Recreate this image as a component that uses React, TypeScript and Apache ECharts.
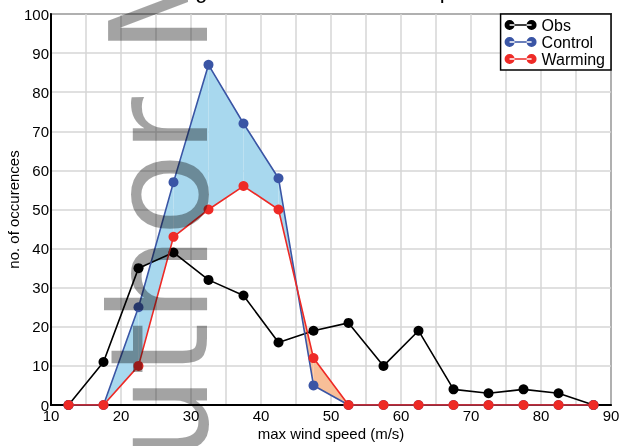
import React, { useEffect, useRef } from "react";
import * as echarts from "echarts";

const xCenters = [12.5, 17.5, 22.5, 27.5, 32.5, 37.5, 42.5, 47.5, 52.5, 57.5, 62.5, 67.5, 72.5, 77.5, 82.5, 87.5];
const obsValues = [0, 11, 35, 39, 32, 28, 16, 19, 21, 10, 19, 4, 3, 4, 3, 0];
const controlValues = [0, 0, 25, 57, 87, 72, 58, 5, 0, 0, 0, 0, 0, 0, 0, 0];
const warmingValues = [0, 0, 10, 43, 50, 56, 50, 12, 0, 0, 0, 0, 0, 0, 0, 0];
const seriesNames = ["Obs", "Control", "Warming"];
const titleText = "Histogram of maximum wind speed";
const watermarkText = "Author Manuscript";

const FONT = '"Liberation Sans", Arial, Helvetica, sans-serif';
const WM_FONT = '"DejaVu Sans", sans-serif';
const BLUE = "#3a55a5";
const RED = "#ee2a26";
const BLUE_FILL = "#a8d8ee";
const ORANGE_FILL = "#f8bf98";

const legendIcon =
  "path://M0,5a5,5 0 1,0 10,0a5,5 0 1,0 -10,0z M22,5a5,5 0 1,0 10,0a5,5 0 1,0 -10,0z M5,4.2h22v1.6h-22z";

export default function App() {
  const ref = useRef<HTMLDivElement>(null);

  useEffect(() => {
    if (!ref.current) return;
    const chart = echarts.init(ref.current, undefined, { renderer: "svg" });

    const fillData = xCenters.slice(0, -1).map((x, i) => [
      x,
      xCenters[i + 1],
      controlValues[i],
      controlValues[i + 1],
      warmingValues[i],
      warmingValues[i + 1],
    ]);

    const renderFill = (params: any, api: any) => {
      const x0 = api.value(0), x1 = api.value(1);
      const c0 = api.value(2), c1 = api.value(3);
      const w0 = api.value(4), w1 = api.value(5);
      const d0 = c0 - w0, d1 = c1 - w1;
      const children: any[] = [];
      const poly = (pts: number[][], pos: boolean) => {
        children.push({
          type: "polygon",
          shape: { points: pts.map((p) => api.coord(p)) },
          style: { fill: pos ? BLUE_FILL : ORANGE_FILL, stroke: "none" },
        });
      };
      if (d0 === 0 && d1 === 0) return { type: "group", children };
      if (d0 >= 0 && d1 >= 0) {
        poly([[x0, c0], [x1, c1], [x1, w1], [x0, w0]], true);
      } else if (d0 <= 0 && d1 <= 0) {
        poly([[x0, c0], [x1, c1], [x1, w1], [x0, w0]], false);
      } else {
        const t = d0 / (d0 - d1);
        const xm = x0 + t * (x1 - x0);
        const ym = c0 + t * (c1 - c0);
        poly([[x0, c0], [xm, ym], [x0, w0]], d0 > 0);
        poly([[xm, ym], [x1, c1], [x1, w1]], d1 > 0);
      }
      return { type: "group", children };
    };

    const lineSeries = (name: string, vals: number[], color: string, z: number) => ({
      name,
      type: "line",
      data: xCenters.map((x, i) => [x, vals[i]]),
      symbol: "circle",
      symbolSize: 10,
      z,
      lineStyle: { color, width: 1.6 },
      itemStyle: { color },
      emphasis: { disabled: true },
    });

    chart.setOption({
      animation: false,
      textStyle: { fontFamily: FONT },
      grid: {
        left: 51,
        right: 12,
        top: 14,
        bottom: 41,
        show: true,
        borderColor: "#000",
        borderWidth: 1.5,
        backgroundColor: "transparent",
        containLabel: false,
        outerBoundsMode: "none",
      },
      legend: {
        data: seriesNames,
        right: 12,
        top: 14,
        orient: "vertical",
        icon: legendIcon,
        itemWidth: 32,
        itemHeight: 10,
        itemGap: 1,
        padding: [3, 6, 3, 4],
        backgroundColor: "#fff",
        borderColor: "#000",
        borderWidth: 1.5,
        borderRadius: 0,
        selectedMode: false,
        textStyle: { color: "#000", fontSize: 16, fontFamily: FONT, lineHeight: 16 },
        z: 20,
      },
      xAxis: {
        type: "value",
        min: 10,
        max: 90,
        interval: 10,
        name: "max wind speed (m/s)",
        nameLocation: "middle",
        nameGap: 21,
        nameMoveOverlap: false,
        nameTextStyle: { color: "#000", fontSize: 15, fontFamily: FONT },
        axisLine: { show: true, onZero: false, lineStyle: { color: "#000", width: 2 } },
        axisTick: { show: false },
        axisLabel: { color: "#000", fontSize: 15, margin: 3, fontFamily: FONT, hideOverlap: false },
        splitLine: { show: true, lineStyle: { color: "#d6d6d6", width: 1.5 } },
        minorTick: { show: false, splitNumber: 2 },
        minorSplitLine: { show: true, lineStyle: { color: "#d6d6d6", width: 1.5 } },
      },
      yAxis: {
        type: "value",
        min: 0,
        max: 100,
        interval: 10,
        name: "no. of occurences",
        nameLocation: "middle",
        nameGap: 30,
        nameMoveOverlap: false,
        nameTextStyle: { color: "#000", fontSize: 15, fontFamily: FONT },
        axisLine: { show: true, lineStyle: { color: "#000", width: 2 } },
        axisTick: { show: false },
        axisLabel: { color: "#000", fontSize: 15, margin: 2, fontFamily: FONT, hideOverlap: false },
        splitLine: { show: true, lineStyle: { color: "#d6d6d6", width: 1.5 } },
      },
      graphic: [
        {
          type: "text",
          x: 317,
          y: 1.5,
          z: 50,
          style: {
            text: titleText,
            font: `22px ${FONT}`,
            fill: "#000",
            align: "center",
            verticalAlign: "bottom",
          },
        },
        {
          type: "text",
          x: 228,
          y: 555,
          rotation: Math.PI / 2,
          z: 100,
          silent: true,
          style: {
            text: watermarkText,
            font: `136px ${WM_FONT}`,
            fill: "rgba(0,0,0,0.36)",
            align: "left",
            verticalAlign: "bottom",
          },
        },
      ],
      series: [
        {
          type: "custom",
          name: "fill",
          renderItem: renderFill,
          data: fillData,
          encode: { x: [0, 1], y: [2, 3, 4, 5] },
          z: 1,
          silent: true,
        },
        lineSeries(seriesNames[0], obsValues, "#000", 3),
        lineSeries(seriesNames[1], controlValues, BLUE, 4),
        lineSeries(seriesNames[2], warmingValues, RED, 5),
      ],
    });

    return () => chart.dispose();
  }, []);

  return (
    <div
      ref={ref}
      style={{ position: "fixed", left: 0, top: 0, width: 623, height: 446 }}
    />
  );
}
